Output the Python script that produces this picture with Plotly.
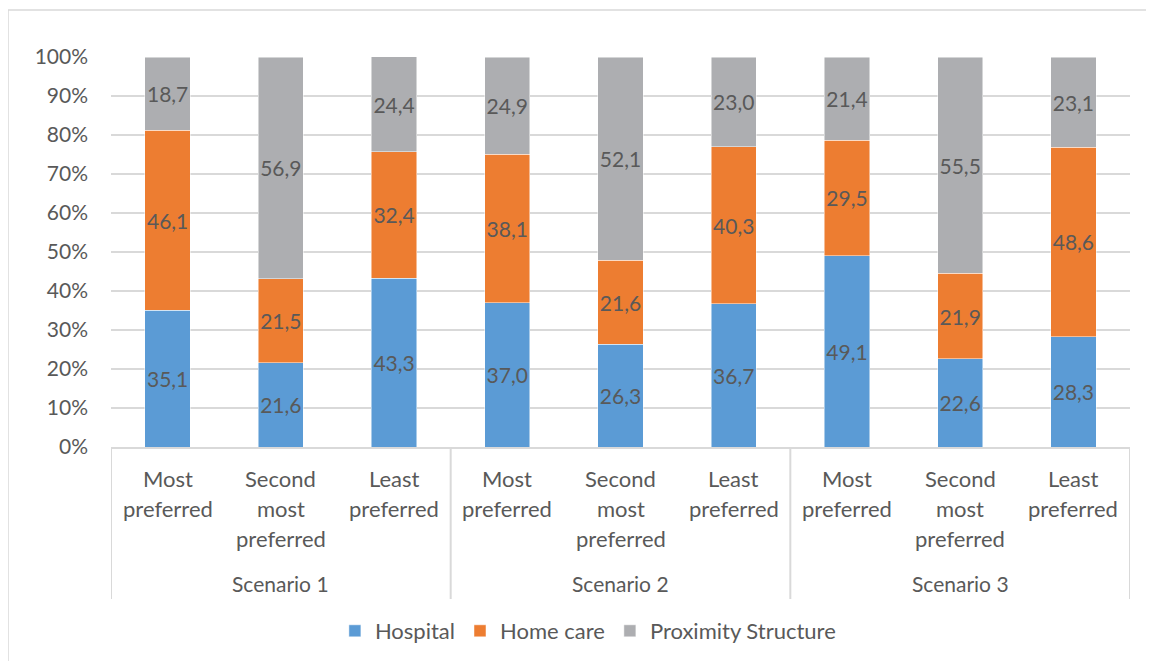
import plotly.graph_objects as go

scenarios = ["Scenario 1", "Scenario 2", "Scenario 3"]
ranks = ["Most<br>preferred", "Second<br>most<br>preferred", "Least<br>preferred"]
series_names = ["Hospital", "Home care", "Proximity Structure"]
hospital = [35.1, 21.6, 43.3, 37.0, 26.3, 36.7, 49.1, 22.6, 28.3]
home_care = [46.1, 21.5, 32.4, 38.1, 21.6, 40.3, 29.5, 21.9, 48.6]
proximity = [18.7, 56.9, 24.4, 24.9, 52.1, 23.0, 21.4, 55.5, 23.1]
colors = ["#5B9BD5", "#ED7D31", "#ADAEB1"]
y_ticks = [0, 10, 20, 30, 40, 50, 60, 70, 80, 90, 100]

FONT = "Lato, Carlito, Calibri, sans-serif"
TXT = "#595959"
GRID = "#D9D9D9"

n_cat = len(scenarios) * len(ranks)
xs = list(range(n_cat))

fig = go.Figure()
for name, vals, col in zip(series_names, [hospital, home_care, proximity], colors):
    fig.add_trace(go.Bar(
        x=xs, y=vals, name=name, width=0.4,
        marker=dict(color=col, line=dict(color="rgba(255,255,255,0.6)", width=0.8)),
        text=[f"{v:.1f}".replace(".", ",") for v in vals],
        textposition="inside", insidetextanchor="middle",
        textfont=dict(color=TXT, size=21, family=FONT),
        textangle=0,
    ))

annotations = []
shapes = []
# rank labels, one line per annotation to control line spacing
for s_i, sc in enumerate(scenarios):
    for r_i, rk in enumerate(ranks):
        xi = s_i * len(ranks) + r_i
        for l_i, line in enumerate(rk.split("<br>")):
            annotations.append(dict(
                x=xi, xref="x", y=0, yref="paper", yanchor="middle",
                yshift=-31 - 30 * l_i, text=line, showarrow=False,
                font=dict(color=TXT, size=22, family=FONT)))
    center = s_i * len(ranks) + (len(ranks) - 1) / 2
    annotations.append(dict(
        x=center, xref="x", y=0, yref="paper", yanchor="middle",
        yshift=-136, text=sc, showarrow=False,
        font=dict(color=TXT, size=21, family=FONT)))

# separators between scenario groups
for b in range(len(scenarios) + 1):
    xb = b * len(ranks) - 0.5
    shapes.append(dict(type="line", xref="x", yref="paper", x0=xb, x1=xb,
                       y0=0, y1=-152 / 390, line=dict(color=GRID, width=2)))
# outer chart border (left and top only visible)
shapes.append(dict(type="line", xref="paper", yref="paper",
                   x0=-103 / 1019, x1=-103 / 1019, y0=437 / 390, y1=-240 / 390,
                   line=dict(color=GRID, width=1.5)))
shapes.append(dict(type="line", xref="paper", yref="paper",
                   x0=-103 / 1019, x1=1.1, y0=437 / 390, y1=437 / 390,
                   line=dict(color=GRID, width=1.5)))

fig.update_layout(
    barmode="stack",
    width=1154, height=661,
    margin=dict(l=103, r=32, t=49, b=222),
    plot_bgcolor="white", paper_bgcolor="white",
    font=dict(family=FONT, color=TXT, size=18),
    showlegend=True,
    legend=dict(orientation="h", x=0.468, xanchor="center", y=-184 / 390,
                yanchor="middle", font=dict(size=22, color=TXT, family=FONT),
                itemwidth=30, traceorder="normal"),
    annotations=annotations,
    shapes=shapes,
    uniformtext=dict(minsize=20, mode="show"),
)
fig.update_xaxes(range=[-0.5, n_cat - 0.5], showticklabels=False, showgrid=False,
                 zeroline=False, showline=True, linecolor=GRID, linewidth=2,
                 ticks="")
fig.update_yaxes(range=[0, 100], tickvals=y_ticks,
                 ticktext=[f"{t}%" for t in y_ticks], showgrid=True, gridcolor=GRID,
                 gridwidth=1.5, zeroline=False, showline=False,
                 tickfont=dict(size=21, color=TXT, family=FONT), ticks="",
                 ticklabelstandoff=22)

fig.write_html("out.html")
